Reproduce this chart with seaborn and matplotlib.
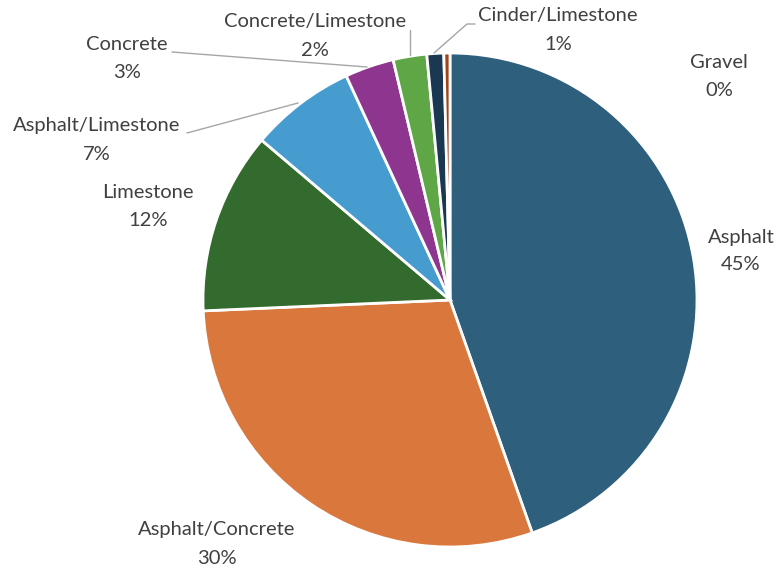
import matplotlib
matplotlib.use('Agg')
import matplotlib.pyplot as plt
import seaborn as sns

# ── data ──────────────────────────────────────────────────────────────────────
materials = ['Asphalt', 'Asphalt/Concrete', 'Limestone', 'Asphalt/Limestone',
             'Concrete', 'Concrete/Limestone', 'Cinder/Limestone', 'Gravel']
shares = [44.6, 29.7, 11.9, 6.9, 3.2, 2.2, 1.1, 0.4]
pct_labels = ['45%', '30%', '12%', '7%', '3%', '2%', '1%', '0%']
colors = ['#2E5F7D', '#D9773D', '#336A2D', '#469CCF',
          '#8E3590', '#5EA646', '#1A3851', '#A0451A']

sns.set_theme(style='white')
plt.rcParams['font.family'] = ['Lato', 'DejaVu Sans']

W, H = 782, 571
fig = plt.figure(figsize=(W / 100, H / 100), dpi=100)
ax = fig.add_axes([0, 0, 1, 1])

cx, cy, r = 450, H - 300, 247
ax.pie(shares, colors=colors, startangle=90, counterclock=False,
       center=(cx, cy), radius=r, frame=True,
       wedgeprops=dict(edgecolor='white', linewidth=2))
ax.set_xlim(0, W)
ax.set_ylim(0, H)
ax.set_aspect('equal')
ax.axis('off')

# label block centres (pixel coords, from top)
label_pos = {
    'Asphalt': (741, 251),
    'Asphalt/Concrete': (217, 544),
    'Limestone': (148, 206),
    'Asphalt/Limestone': (97, 140),
    'Concrete': (127, 58),
    'Concrete/Limestone': (315, 36),
    'Cinder/Limestone': (558, 30),
    'Gravel': (719, 76),
}
txt_color = '#404040'
for name, pct in zip(materials, pct_labels):
    x, y = label_pos[name]
    ax.text(x, H - (y - 14), name, ha='center', va='center',
            fontsize=14.5, color=txt_color)
    ax.text(x, H - (y + 14), pct, ha='center', va='center',
            fontsize=14.5, color=txt_color)

# leader lines
leaders = [
    [(172, 52), (367, 67)],
    [(187, 133), (298, 103)],
    [(410, 55), (410, 30)],
    [(434, 53), (467, 24), (475, 24)],
]
for pts in leaders:
    xs = [p[0] for p in pts]
    ys = [H - p[1] for p in pts]
    ax.plot(xs, ys, color='#A6A6A6', linewidth=1)

fig.savefig('out.png', dpi=100)
